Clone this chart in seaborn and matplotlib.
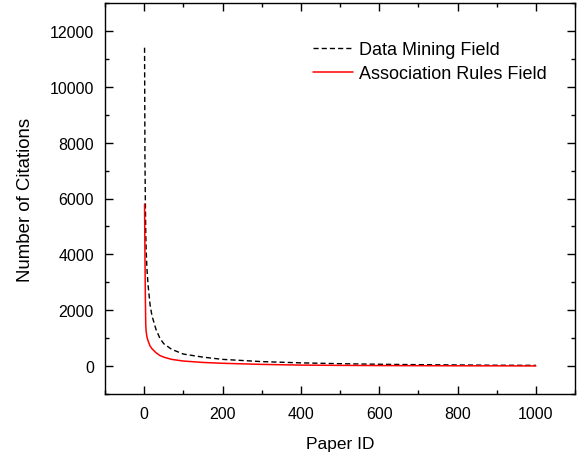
import numpy as np
import pandas as pd
import matplotlib
matplotlib.use("Agg")
import matplotlib.pyplot as plt
import seaborn as sns
from matplotlib.ticker import MultipleLocator

paper_id = [1, 2, 3, 4, 5, 7, 10, 15, 20, 30, 40, 50, 70, 100, 150, 200,
            300, 400, 500, 600, 700, 800, 900, 1000]
data_mining = [11400, 7500, 5900, 4800, 4200, 3500, 2900, 2200, 1800, 1320,
               1000, 800, 600, 430, 320, 240, 160, 115, 85, 65, 50, 40, 30, 25]
assoc_rules = [5800, 4000, 2500, 1500, 1250, 1050, 900, 720, 620, 480,
               380, 320, 240, 180, 130, 100, 60, 35, 25, 18, 14, 10, 8, 5]
series_names = ["Data Mining Field", "Association Rules Field"]

sns.set_style("ticks")
plt.rcParams["font.family"] = ["Liberation Sans", "DejaVu Sans"]
plt.rcParams.update({"text.color": "black", "axes.labelcolor": "black",
                     "xtick.color": "black", "ytick.color": "black"})

fig = plt.figure(figsize=(5.77, 4.56), dpi=100)
ax = fig.add_axes([105 / 577, 1 - 395 / 456, 470 / 577, 391 / 456])

df1 = pd.DataFrame({"x": paper_id, "y": data_mining})
df2 = pd.DataFrame({"x": paper_id, "y": assoc_rules})
sns.lineplot(data=df1, x="x", y="y", ax=ax, color="black", lw=1.0,
             label=series_names[0])
ax.lines[-1].set_dashes([3.7, 2.2])
sns.lineplot(data=df2, x="x", y="y", ax=ax, color="red", lw=1.1,
             label=series_names[1])

ax.set_xlim(-100, 1100)
ax.set_ylim(-1000, 13000)
ax.xaxis.set_major_locator(MultipleLocator(200))
ax.xaxis.set_minor_locator(MultipleLocator(100))
ax.yaxis.set_major_locator(MultipleLocator(2000))
ax.yaxis.set_minor_locator(MultipleLocator(1000))
ax.tick_params(which="both", direction="in", top=True, right=True,
               labelsize=11.5, width=1, color="black", labelcolor="black")
ax.tick_params(which="major", length=6)
ax.tick_params(axis="x", which="major", pad=8.5)
ax.tick_params(axis="y", which="major", pad=8)
ax.tick_params(which="minor", length=3)
for s in ax.spines.values():
    s.set_color("black")
    s.set_linewidth(1.0)

ax.set_xlabel("Paper ID", fontsize=12.5, labelpad=11)
ax.set_ylabel("Number of Citations", fontsize=13.4, labelpad=11.5)

leg = ax.legend(loc="upper left", bbox_to_anchor=((313 - 105) / 470, 1 - (42 - 4) / 391),
                frameon=False, fontsize=13, handlelength=2.2, handletextpad=0.35,
                labelspacing=0.4, borderpad=0, borderaxespad=0)

fig.savefig("out.png", dpi=100)
